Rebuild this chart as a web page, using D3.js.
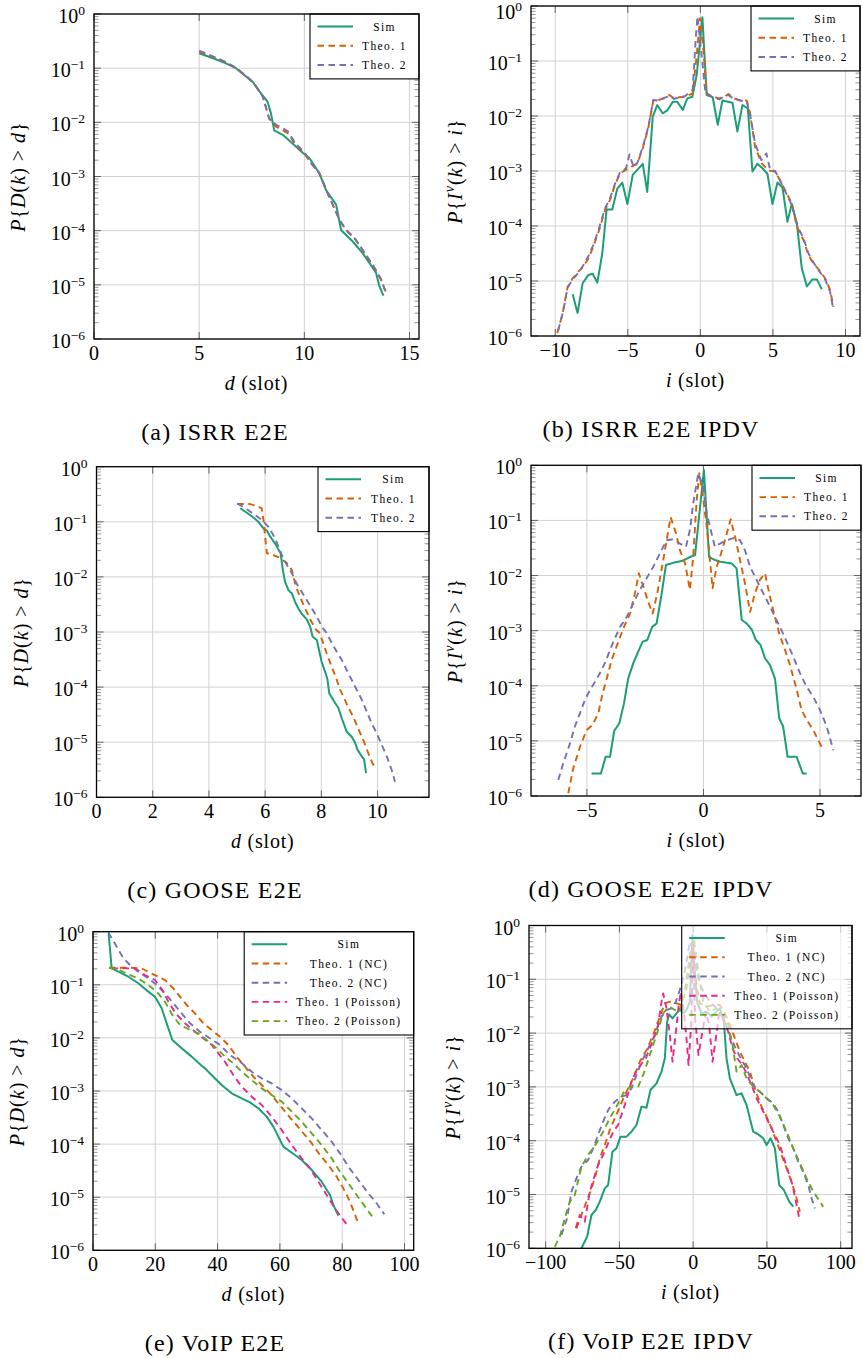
<!DOCTYPE html>
<html>
<head>
<meta charset="utf-8">
<script src="https://cdn.jsdelivr.net/npm/d3@7/dist/d3.min.js"></script>
<style>
  body { margin: 0; background: #fff; }
  #fig text { font-family: "Liberation Serif", "DejaVu Serif", serif; fill: #000; white-space: pre; }
</style>
</head>
<body>
<svg id="fig" width="863" height="1358" font-family="Liberation Serif, DejaVu Serif, serif"></svg>
<script>
// ---------- tick values ----------
const yTicks = [1, 1e-1, 1e-2, 1e-3, 1e-4, 1e-5, 1e-6];
const isrrE2eXTicks = [0, 5, 10, 15];
const isrrIpdvXTicks = [-10, -5, 0, 5, 10];
const gooseE2eXTicks = [0, 2, 4, 6, 8, 10];
const gooseIpdvXTicks = [-5, 0, 5];
const voipE2eXTicks = [0, 20, 40, 60, 80, 100];
const voipIpdvXTicks = [-100, -50, 0, 50, 100];

const legendBasic = ["Sim", "Theo. 1", "Theo. 2"];
const legendVoip = ["Sim", "Theo. 1 (NC)", "Theo. 2 (NC)", "Theo. 1 (Poisson)", "Theo. 2 (Poisson)"];

// ---------- (a) ISRR E2E : [d, P{D(k) > d}] ----------
const isrrE2eSim = [[5.0,1.88e-1],[5.79,1.46e-1],[6.27,1.23e-1],[6.75,1.0e-1],[7.14,7.5e-2],[7.54,5.62e-2],[7.86,3.72e-2],[8.25,2.4e-2],[8.41,1.48e-2],[8.57,7.08e-3],[8.97,5.89e-3],[9.44,4.07e-3],[9.92,2.75e-3],[10.24,2.19e-3],[10.71,1.15e-3],[11.03,5.62e-4],[11.51,3.02e-4],[11.75,1.02e-4],[12.3,6.31e-5],[12.78,3.8e-5],[13.1,2.51e-5],[13.41,1.66e-5],[13.57,9.33e-6],[13.76,6.31e-6]];
const isrrE2eTheo1 = [[5.0,2.02e-1],[5.63,1.63e-1],[6.19,1.32e-1],[6.75,1.0e-1],[7.22,7.18e-2],[7.62,5.13e-2],[8.02,2.99e-2],[8.33,1.19e-2],[8.65,8.32e-3],[9.21,6.31e-3],[9.6,3.8e-3],[10.0,2.69e-3],[10.32,1.74e-3],[10.71,1.15e-3],[11.11,4.9e-4],[11.43,2.57e-4],[11.67,1.58e-4],[11.98,1.02e-4],[12.38,7.24e-5],[12.7,4.79e-5],[13.02,3.09e-5],[13.33,2.04e-5],[13.65,1.23e-5],[13.89,7.08e-6]];
const isrrE2eTheo2 = [[5.0,2.1e-1],[5.63,1.66e-1],[6.19,1.34e-1],[6.75,1.02e-1],[7.22,7.3e-2],[7.62,5.2e-2],[8.02,3.05e-2],[8.33,1.15e-2],[8.65,9.1e-3],[9.21,6.9e-3],[9.6,4.0e-3],[10.0,2.8e-3],[10.32,1.78e-3],[10.71,1.17e-3],[11.11,4.9e-4],[11.43,2.55e-4],[11.67,1.6e-4],[11.98,1.04e-4],[12.38,7.4e-5],[12.7,4.9e-5],[13.02,3.2e-5],[13.33,2.1e-5],[13.65,1.26e-5],[13.89,6.8e-6]];

// ---------- (b) ISRR E2E IPDV : [i, P{I^v(k) > i}] ----------
const isrrIpdvSim = [[-8.8,5.75e-6],[-8.46,2.63e-6],[-8.11,9.12e-6],[-7.72,1.29e-5],[-7.42,1.35e-5],[-7.1,9.33e-6],[-6.76,3.16e-5],[-6.46,2.0e-4],[-6.07,2.0e-4],[-5.72,4.79e-4],[-5.38,6.17e-4],[-5.03,2.51e-4],[-4.66,8.51e-4],[-3.97,1.35e-3],[-3.66,4.17e-4],[-3.28,9.77e-3],[-2.97,1.58e-2],[-2.6,1.12e-2],[-2.28,1.26e-2],[-1.9,1.82e-2],[-1.59,1.82e-2],[-1.21,1.29e-2],[-0.9,2.09e-2],[-0.55,2.24e-2],[-0.25,5.62e-2],[0.14,6.22e-1],[0.44,2.4e-2],[0.85,2.19e-2],[1.2,6.92e-3],[1.52,1.91e-2],[2.21,1.74e-2],[2.55,5.25e-3],[2.9,1.58e-2],[3.27,1.38e-2],[3.59,9.77e-4],[3.93,1.35e-3],[4.28,1.12e-3],[4.62,8.91e-4],[4.97,2.51e-4],[5.31,6.17e-4],[5.66,5.01e-4],[6.0,1.2e-4],[6.3,2.51e-4],[6.65,1.12e-4],[6.99,1.7e-5],[7.34,7.94e-6],[7.72,1.07e-5],[8.03,1.07e-5],[8.37,7.08e-6]];
const isrrIpdvTheo1 = [[-9.86,1.12e-6],[-9.49,2.57e-6],[-9.15,7.76e-6],[-8.8,1.12e-5],[-8.41,1.48e-5],[-8.07,1.82e-5],[-7.72,2.57e-5],[-7.38,4.17e-5],[-6.97,8.51e-5],[-6.57,1.95e-4],[-6.23,2.95e-4],[-5.88,5.62e-4],[-5.54,9.12e-4],[-5.12,1.05e-3],[-4.73,1.2e-3],[-4.34,1.38e-3],[-3.97,2.57e-3],[-3.59,6.03e-3],[-3.24,1.91e-2],[-2.9,1.95e-2],[-2.5,2.09e-2],[-2.14,2.4e-2],[-1.81,2.09e-2],[-1.45,2.19e-2],[-1.06,2.24e-2],[-0.53,2.57e-2],[-0.25,1.29e-1],[-0.02,6.03e-1],[0.21,1.58e-1],[0.44,2.57e-2],[0.85,2.24e-2],[1.29,2.09e-2],[1.66,2.24e-2],[1.93,2.51e-2],[2.32,2.09e-2],[2.74,1.95e-2],[3.2,1.91e-2],[3.43,1.12e-2],[3.77,2.75e-3],[4.23,1.38e-3],[4.69,1.02e-3],[5.15,9.77e-4],[5.54,6.46e-4],[5.96,3.89e-4],[6.3,2.57e-4],[6.65,9.77e-5],[7.1,5.62e-5],[7.45,2.95e-5],[7.79,2.09e-5],[8.19,1.58e-5],[8.6,1.12e-5],[8.94,6.92e-6],[9.17,3.39e-6]];
const isrrIpdvTheo2 = [[-9.8,1.26e-6],[-9.45,2.82e-6],[-9.15,7.59e-6],[-8.8,1.07e-5],[-8.41,1.41e-5],[-8.07,1.91e-5],[-7.72,2.82e-5],[-7.38,4.47e-5],[-6.97,9.33e-5],[-6.57,2.09e-4],[-6.23,3.16e-4],[-5.88,5.89e-4],[-5.54,9.33e-4],[-5.12,1.12e-3],[-4.88,2.0e-3],[-4.6,1.17e-3],[-4.34,1.41e-3],[-3.97,2.75e-3],[-3.59,6.31e-3],[-3.24,1.95e-2],[-2.9,1.91e-2],[-2.5,2.14e-2],[-2.14,2.29e-2],[-1.81,2.04e-2],[-1.45,2.19e-2],[-1.06,2.29e-2],[-0.53,3.02e-2],[-0.32,2.51e-1],[-0.2,6.46e-1],[0.05,1.58e-1],[0.35,2.63e-2],[0.85,2.19e-2],[1.29,2.0e-2],[1.66,2.29e-2],[1.93,2.4e-2],[2.32,2.04e-2],[2.74,1.91e-2],[3.2,1.82e-2],[3.43,1.05e-2],[3.77,3.16e-3],[4.2,1.58e-3],[4.55,2.09e-3],[4.8,1.07e-3],[5.15,1.0e-3],[5.54,6.31e-4],[5.96,3.72e-4],[6.3,2.4e-4],[6.65,1.05e-4],[7.1,6.03e-5],[7.45,3.16e-5],[7.79,2.19e-5],[8.19,1.51e-5],[8.6,1.07e-5],[8.94,6.31e-6],[9.15,3.16e-6]];

// ---------- (c) GOOSE E2E ----------
const gooseE2eSim = [[5.11,1.76e-1],[5.35,1.46e-1],[5.58,1.2e-1],[5.76,1.0e-1],[5.94,7.59e-2],[6.06,6.92e-2],[6.17,5.5e-2],[6.35,4.07e-2],[6.47,3.16e-2],[6.55,2.69e-2],[6.63,1.33e-2],[6.71,8.13e-3],[6.83,5.75e-3],[6.95,5.01e-3],[7.06,3.55e-3],[7.18,2.69e-3],[7.3,2.14e-3],[7.48,1.7e-3],[7.6,1.26e-3],[7.69,8.22e-4],[7.84,7.16e-4],[7.93,4.37e-4],[8.01,2.88e-4],[8.13,1.91e-4],[8.21,1.45e-4],[8.28,7.76e-5],[8.49,5.13e-5],[8.6,4.27e-5],[8.73,2.69e-5],[8.9,1.55e-5],[9.08,1.26e-5],[9.2,9.77e-6],[9.28,7.41e-6],[9.44,5.5e-6],[9.52,4.9e-6],[9.59,2.75e-6]];
const gooseE2eTheo1 = [[5.01,2.1e-1],[5.46,2.1e-1],[5.7,1.94e-1],[5.88,1.76e-1],[5.94,1.08e-1],[6.0,5.37e-2],[6.06,2.69e-2],[6.27,2.51e-2],[6.47,2.29e-2],[6.77,1.78e-2],[6.95,1.33e-2],[7.1,6.61e-3],[7.24,4.37e-3],[7.42,2.69e-3],[7.6,1.7e-3],[7.81,1.1e-3],[7.93,9.77e-4],[8.05,6.61e-4],[8.19,4.07e-4],[8.37,2.34e-4],[8.55,1.35e-4],[8.67,8.91e-5],[8.81,6.31e-5],[8.96,4.27e-5],[9.14,2.88e-5],[9.28,1.91e-5],[9.44,1.26e-5],[9.56,8.91e-6],[9.67,6.31e-6],[9.79,4.47e-6],[9.91,3.39e-6]];
const gooseE2eTheo2 = [[5.01,2.16e-1],[5.35,1.69e-1],[5.64,1.33e-1],[5.88,1.08e-1],[6.11,8.13e-2],[6.29,5.75e-2],[6.43,4.07e-2],[6.59,2.51e-2],[6.77,1.66e-2],[6.95,1.17e-2],[7.12,7.59e-3],[7.3,5.37e-3],[7.48,3.8e-3],[7.66,2.69e-3],[7.84,1.91e-3],[8.01,1.26e-3],[8.19,9.55e-4],[8.37,6.31e-4],[8.55,4.37e-4],[8.73,3.09e-4],[8.9,2.04e-4],[9.08,1.35e-4],[9.26,8.91e-5],[9.44,5.89e-5],[9.62,3.55e-5],[9.79,2.19e-5],[9.97,1.45e-5],[10.15,8.91e-6],[10.33,5.5e-6],[10.5,3.16e-6],[10.62,1.91e-6]];

// ---------- (d) GOOSE E2E IPDV ----------
const gooseIpdvSim = [[-4.8,2.57e-6],[-4.4,2.57e-6],[-4.2,5.13e-6],[-4.01,5.13e-6],[-3.83,1.51e-5],[-3.61,2.09e-5],[-3.41,4.79e-5],[-3.23,1.35e-4],[-3.01,2.57e-4],[-2.8,4.17e-4],[-2.61,6.31e-4],[-2.41,6.76e-4],[-2.2,1.17e-3],[-2.01,1.35e-3],[-1.79,4.79e-3],[-1.61,1.55e-2],[-1.3,1.7e-2],[-0.89,1.86e-2],[-0.55,2.19e-2],[-0.36,2.34e-2],[0.02,8.22e-1],[0.24,2.19e-2],[0.45,1.95e-2],[0.71,1.78e-2],[1.02,1.7e-2],[1.21,1.66e-2],[1.42,1.35e-2],[1.64,1.58e-3],[1.85,1.35e-3],[2.07,1.05e-3],[2.25,6.76e-4],[2.45,5.5e-4],[2.64,3.16e-4],[2.85,2.4e-4],[3.07,1.35e-4],[3.25,2.57e-5],[3.42,1.82e-5],[3.61,5.13e-6],[4.0,5.13e-6],[4.26,2.57e-6],[4.43,2.57e-6]];
const gooseIpdvTheo1 = [[-5.8,1.12e-6],[-5.59,3.16e-6],[-5.3,7.76e-6],[-5.01,1.58e-5],[-4.76,1.95e-5],[-4.51,3.16e-5],[-4.33,7.24e-5],[-4.13,1.45e-4],[-3.94,2.95e-4],[-3.73,5.13e-4],[-3.44,1.1e-3],[-3.15,2.04e-3],[-2.94,4.79e-3],[-2.77,1.1e-2],[-2.58,6.31e-3],[-2.37,3.31e-3],[-2.18,2.04e-3],[-1.98,4.79e-3],[-1.75,1.66e-2],[-1.58,4.37e-2],[-1.41,1.15e-1],[-1.18,5.89e-2],[-1.01,2.88e-2],[-0.79,1.66e-2],[-0.58,5.5e-3],[-0.44,2.19e-2],[-0.29,2.34e-1],[-0.18,7.16e-1],[-0.04,3.09e-1],[0.14,7.76e-2],[0.28,1.91e-2],[0.39,5.89e-3],[0.57,1.45e-2],[0.71,2.19e-2],[0.92,4.37e-2],[1.17,1.05e-1],[1.39,4.37e-2],[1.57,1.91e-2],[1.78,7.24e-3],[2.0,2.19e-3],[2.21,4.79e-3],[2.42,8.32e-3],[2.64,1.1e-2],[2.82,4.79e-3],[3.03,2.04e-3],[3.25,8.91e-4],[3.5,4.47e-4],[3.71,2.4e-4],[3.97,9.55e-5],[4.21,3.63e-5],[4.43,2.4e-5],[4.71,1.58e-5],[4.93,1.02e-5],[5.14,6.76e-6]];
const gooseIpdvTheo2 = [[-6.23,1.95e-6],[-6.02,3.89e-6],[-5.73,8.91e-6],[-5.52,1.82e-5],[-5.3,3.16e-5],[-5.09,5.5e-5],[-4.87,8.32e-5],[-4.66,1.17e-4],[-4.44,1.7e-4],[-4.23,2.57e-4],[-4.01,4.47e-4],[-3.8,7.24e-4],[-3.58,1.17e-3],[-3.37,1.55e-3],[-3.15,2.34e-3],[-2.94,3.63e-3],[-2.73,5.5e-3],[-2.44,8.91e-3],[-2.15,1.45e-2],[-1.87,2.51e-2],[-1.58,4.37e-2],[-1.3,4.57e-2],[-1.01,3.8e-2],[-0.75,3.31e-2],[-0.58,6.76e-2],[-0.44,2.04e-1],[-0.22,7.16e-1],[-0.01,4.07e-1],[0.14,1.35e-1],[0.31,6.76e-2],[0.49,3.31e-2],[0.71,3.8e-2],[1.0,4.37e-2],[1.28,4.79e-2],[1.57,4.37e-2],[1.78,2.88e-2],[2.0,1.45e-2],[2.21,9.55e-3],[2.42,6.31e-3],[2.71,3.63e-3],[3.0,2.04e-3],[3.28,1.17e-3],[3.57,6.31e-4],[3.85,3.39e-4],[4.14,1.7e-4],[4.43,9.55e-5],[4.71,6.31e-5],[5.0,3.63e-5],[5.29,1.82e-5],[5.57,6.76e-6]];

// ---------- (e) VoIP E2E ----------
const voipE2eSim = [[5.0,9.33e-1],[6.0,2.04e-1],[8.13,1.77e-1],[11.34,1.42e-1],[14.55,1.07e-1],[17.76,7.43e-2],[19.9,5.97e-2],[22.04,3.61e-2],[23.65,1.88e-2],[25.47,9.12e-3],[28.46,6.37e-3],[31.67,4.44e-3],[34.88,3.0e-3],[35.95,2.67e-3],[38.63,1.86e-3],[41.3,1.3e-3],[44.52,9.04e-4],[47.72,7.28e-4],[50.4,6.12e-4],[53.08,4.72e-4],[55.75,3.29e-4],[57.89,2.13e-4],[61.1,8.95e-5],[64.85,6.24e-5],[66.99,5.02e-5],[70.2,3.25e-5],[73.41,1.96e-5],[76.08,1.1e-5],[77.15,7.13e-6],[78.76,4.49e-6]];
const voipE2eTheo1Nc = [[5.13,2.1e-1],[11.34,2.1e-1],[15.62,2.04e-1],[19.37,1.57e-1],[23.11,1.23e-1],[25.79,8.57e-2],[27.93,5.97e-2],[30.07,4.17e-2],[32.74,2.9e-2],[35.42,1.88e-2],[38.09,1.41e-2],[40.77,1.05e-2],[43.44,7.35e-3],[46.12,4.44e-3],[48.79,2.87e-3],[51.47,1.86e-3],[54.15,1.3e-3],[56.82,9.04e-4],[59.5,5.86e-4],[62.17,3.79e-4],[64.85,2.46e-4],[67.52,1.6e-4],[70.2,1.04e-4],[72.87,6.24e-5],[75.55,4.05e-5],[78.22,2.44e-5],[80.36,1.47e-5],[82.5,8.24e-6],[84.96,3.46e-6]];
const voipE2eTheo2Nc = [[4.92,9.73e-1],[7.6,5.22e-1],[9.74,3.16e-1],[11.88,2.36e-1],[14.55,1.77e-1],[17.76,1.32e-1],[20.44,9.9e-2],[23.11,6.9e-2],[25.79,4.48e-2],[28.46,2.9e-2],[31.14,1.88e-2],[34.35,1.31e-2],[37.56,9.82e-3],[40.77,7.35e-3],[43.98,4.76e-3],[47.19,3.56e-3],[50.94,2.31e-3],[54.15,1.73e-3],[57.36,1.39e-3],[60.57,1.04e-3],[63.78,7.28e-4],[66.99,4.72e-4],[70.2,3.05e-4],[73.41,1.85e-4],[76.62,1.11e-4],[79.29,6.7e-5],[81.97,3.76e-5],[85.18,2.11e-5],[88.39,1.18e-5],[91.06,7.67e-6],[93.52,4.76e-6]];
const voipE2eTheo1Poisson = [[5.99,2.04e-1],[13.48,2.04e-1],[16.69,1.53e-1],[19.9,1.23e-1],[22.26,7.98e-2],[24.18,4.81e-2],[26.54,2.9e-2],[29.53,1.88e-2],[32.74,1.31e-2],[35.42,9.82e-3],[38.09,7.35e-3],[40.23,5.12e-3],[42.37,3.56e-3],[45.05,2.0e-3],[47.72,1.21e-3],[50.94,7.82e-4],[54.15,5.45e-4],[57.36,3.29e-4],[60.57,1.85e-4],[63.78,9.62e-5],[66.99,5.4e-5],[69.66,3.5e-5],[72.34,1.96e-5],[75.01,1.1e-5],[77.69,6.18e-6],[79.83,4.12e-6],[81.43,3.08e-6]];
const voipE2eTheo2Poisson = [[5.13,2.1e-1],[8.13,1.95e-1],[11.34,1.57e-1],[14.55,1.32e-1],[17.76,9.9e-2],[20.44,7.43e-2],[23.11,4.81e-2],[25.47,2.7e-2],[27.93,1.75e-2],[30.6,1.47e-2],[33.81,1.22e-2],[36.49,9.12e-3],[39.7,6.37e-3],[42.37,4.44e-3],[45.05,3.32e-3],[47.72,2.31e-3],[50.94,1.61e-3],[54.15,1.12e-3],[57.36,8.41e-4],[60.57,6.3e-4],[63.78,4.08e-4],[66.99,2.65e-4],[70.2,1.6e-4],[73.41,9.62e-5],[76.62,5.4e-5],[79.29,3.03e-5],[81.97,1.82e-5],[84.64,1.1e-5],[87.32,6.64e-6],[89.67,4.31e-6]];

// ---------- (f) VoIP E2E IPDV ----------
const voipIpdvSim = [[-75.74,1.0e-6],[-71.9,1.64e-6],[-68.96,4.16e-6],[-66.02,5.15e-6],[-63.3,7.36e-6],[-59.91,1.3e-5],[-57.65,1.5e-5],[-54.71,6.25e-5],[-52.0,7.21e-5],[-49.28,1.19e-4],[-45.21,1.19e-4],[-41.82,1.47e-4],[-38.43,1.96e-4],[-35.03,4.3e-4],[-31.64,4.11e-4],[-28.93,8.75e-4],[-24.86,1.16e-3],[-21.47,1.92e-3],[-19.2,3.4e-3],[-17.62,1.63e-2],[-16.26,2.23e-2],[-14.0,1.88e-2],[-11.29,2.33e-2],[-8.58,2.88e-2],[-6.77,2.33e-2],[-4.51,2.69e-2],[-2.24,3.84e-2],[-0.44,6.65e-1],[1.14,1.39e-1],[2.73,3.84e-2],[5.67,2.33e-2],[9.06,2.51e-2],[12.45,2.02e-2],[15.85,2.51e-2],[18.11,2.88e-2],[20.82,1.63e-2],[22.63,3.4e-3],[24.89,1.44e-3],[29.42,7.06e-4],[32.81,7.59e-4],[36.2,4.61e-4],[40.72,1.47e-4],[44.11,1.31e-4],[47.51,1.11e-4],[49.77,8.32e-5],[52.48,1.11e-4],[55.42,7.21e-5],[58.36,1.5e-5],[61.53,1.21e-5],[65.15,7.36e-6],[67.86,5.94e-6]];
const voipIpdvTheo1Nc = [[-79.13,2.35e-6],[-75.74,4.16e-6],[-72.35,7.36e-6],[-69.63,1.13e-5],[-66.69,2.0e-5],[-63.3,4.7e-5],[-59.91,8.32e-5],[-56.52,1.58e-4],[-53.13,2.61e-4],[-49.73,4.3e-4],[-46.34,7.06e-4],[-42.95,1.08e-3],[-39.56,1.66e-3],[-36.17,2.94e-3],[-31.64,4.85e-3],[-27.12,9.23e-3],[-22.6,2.02e-2],[-19.2,3.57e-2],[-15.81,3.84e-2],[-11.29,3.57e-2],[-7.9,3.33e-2],[-4.51,6.79e-2],[-1.11,3.27e-1],[1.14,1.2e-1],[4.54,3.57e-2],[9.06,3.1e-2],[13.59,3.33e-2],[18.11,3.33e-2],[21.5,2.33e-2],[24.89,1.42e-2],[28.28,8.0e-3],[31.68,4.52e-3],[35.07,2.94e-3],[38.46,1.92e-3],[42.53,8.15e-4],[46.38,4.3e-4],[49.77,2.8e-4],[53.16,1.7e-4],[56.55,9.59e-5],[59.94,5.42e-5],[63.34,3.06e-5],[66.73,1.73e-5],[70.12,8.49e-6],[72.38,4.8e-6]];
const voipIpdvTheo2Nc = [[-89.31,1.77e-6],[-85.46,3.61e-6],[-82.52,1.13e-5],[-79.13,2.0e-5],[-75.74,3.29e-5],[-71.22,4.38e-5],[-67.82,7.21e-5],[-64.43,1.28e-4],[-61.04,2.26e-4],[-57.65,3.72e-4],[-53.13,5.32e-4],[-48.6,6.59e-4],[-45.21,7.06e-4],[-41.82,9.4e-4],[-38.43,1.66e-3],[-34.36,3.16e-3],[-30.51,5.21e-3],[-25.99,9.23e-3],[-21.47,2.02e-2],[-18.07,2.69e-2],[-14.68,2.88e-2],[-11.74,3.84e-2],[-9.03,6.32e-2],[-5.64,1.39e-1],[-2.24,5.01e-1],[0.47,3.27e-1],[3.41,1.04e-1],[6.8,5.89e-2],[11.32,3.84e-2],[15.85,2.88e-2],[20.37,1.88e-2],[24.89,9.23e-3],[28.28,5.6e-3],[31.68,3.65e-3],[36.2,2.21e-3],[40.72,1.08e-3],[45.25,8.15e-4],[49.77,6.14e-4],[54.29,4.95e-4],[57.68,3.47e-4],[61.07,1.96e-4],[64.47,1.11e-4],[67.86,7.21e-5],[71.25,4.07e-5],[74.64,2.65e-5],[78.04,1.5e-5],[80.3,8.49e-6],[82.56,5.53e-6]];
const voipIpdvTheo1Poisson = [[-79.58,2.35e-6],[-76.87,4.16e-6],[-73.48,3.13e-6],[-70.09,1.13e-5],[-67.37,2.0e-5],[-64.43,3.53e-5],[-61.04,5.42e-5],[-57.65,8.93e-5],[-54.26,1.47e-4],[-50.86,1.96e-4],[-48.6,3.01e-4],[-46.34,4.61e-4],[-44.08,7.59e-4],[-41.82,1.25e-3],[-38.88,1.92e-3],[-35.71,2.55e-3],[-32.09,3.4e-3],[-29.38,5.21e-3],[-26.67,8.0e-3],[-23.73,1.42e-2],[-21.47,3.84e-2],[-20.34,5.48e-2],[-18.07,2.88e-2],[-15.81,9.23e-3],[-14.0,2.94e-3],[-11.97,9.23e-3],[-9.71,3.33e-2],[-8.35,5.89e-2],[-6.31,2.5e-2],[-4.51,8.0e-3],[-3.15,2.55e-3],[-1.34,1.42e-2],[0.02,4.37e-1],[1.37,1.88e-2],[3.64,3.92e-3],[5.9,9.23e-3],[8.61,2.5e-2],[10.87,1.42e-2],[13.13,2.94e-3],[15.4,8.0e-3],[17.66,2.33e-2],[20.37,1.88e-2],[23.76,1.06e-2],[26.7,5.21e-3],[29.87,3.4e-3],[33.49,2.55e-3],[36.65,1.66e-3],[39.59,1.08e-3],[42.98,6.14e-4],[46.38,4.0e-4],[49.32,2.8e-4],[52.03,1.96e-4],[55.42,1.28e-4],[58.81,8.32e-5],[61.53,4.7e-5],[64.47,2.65e-5],[67.41,1.5e-5],[69.67,7.36e-6],[71.93,3.61e-6]];
const voipIpdvTheo2Poisson = [[-93.83,1.07e-6],[-90.44,1.64e-6],[-87.05,3.61e-6],[-83.65,7.36e-6],[-80.26,9.79e-6],[-75.74,3.29e-5],[-71.22,5.42e-5],[-65.56,8.93e-5],[-61.04,1.47e-4],[-56.52,2.61e-4],[-52.0,4.3e-4],[-46.34,8.75e-4],[-41.82,1.01e-3],[-37.3,1.01e-3],[-33.45,1.79e-3],[-29.38,3.92e-3],[-24.86,9.23e-3],[-20.34,2.33e-2],[-16.26,3.1e-2],[-12.42,2.69e-2],[-9.03,2.5e-2],[-5.64,5.89e-2],[-2.24,2.83e-1],[0.47,5.78e-1],[3.41,1.39e-1],[6.8,3.84e-2],[11.32,2.5e-2],[15.85,2.88e-2],[20.37,2.17e-2],[23.76,1.42e-2],[26.7,6.01e-3],[29.42,1.92e-3],[32.81,2.55e-3],[36.2,1.44e-3],[40.72,1.01e-3],[45.25,8.15e-4],[49.77,6.14e-4],[54.29,4.61e-4],[58.81,2.8e-4],[63.34,1.47e-4],[67.86,7.21e-5],[72.38,3.79e-5],[76.91,2.0e-5],[81.43,1.13e-5],[85.95,7.36e-6],[88.21,5.94e-6]];

// ---------- styling ----------
const C_SIM = "#1b9e77", C_T1 = "#d95f02", C_T2 = "#7570b3", C_T1P = "#e7298a", C_T2P = "#66a61e";
const colors3 = [C_SIM, C_T1, C_T2];
const colors5 = [C_SIM, C_T1, C_T2, C_T1P, C_T2P];
const FONT = "Liberation Serif, DejaVu Serif, serif";

// panel layout: frame in pixels [left, right, top, bottom]
const panels = [
  { frame: [94, 419, 14, 339], xDomain: [0, 15.45], xTicks: isrrE2eXTicks, series: [isrrE2eSim, isrrE2eTheo1, isrrE2eTheo2],
    names: legendBasic, colors: colors3, xVar: "d", ipdv: false, caption: "(a) ISRR E2E", capX: 215, legendW: 109, legendOpacity: 1 },
  { frame: [531, 860, 6, 336], xDomain: [-11.67, 11.0], xTicks: isrrIpdvXTicks, series: [isrrIpdvSim, isrrIpdvTheo1, isrrIpdvTheo2],
    names: legendBasic, colors: colors3, xVar: "i", ipdv: true, caption: "(b) ISRR E2E IPDV", capX: 651, legendW: 109, legendOpacity: 1 },
  { frame: [96.5, 429, 466.7, 797.3], xDomain: [0, 11.83], xTicks: gooseE2eXTicks, series: [gooseE2eSim, gooseE2eTheo1, gooseE2eTheo2],
    names: legendBasic, colors: colors3, xVar: "d", ipdv: false, caption: "(c) GOOSE E2E", capX: 215, legendW: 111, legendOpacity: 1 },
  { frame: [531, 861, 465.3, 796], xDomain: [-7.4, 6.76], xTicks: gooseIpdvXTicks, series: [gooseIpdvSim, gooseIpdvTheo1, gooseIpdvTheo2],
    names: legendBasic, colors: colors3, xVar: "i", ipdv: true, caption: "(d) GOOSE E2E IPDV", capX: 651, legendW: 109, legendOpacity: 1 },
  { frame: [93, 413.7, 931.7, 1250.3], xDomain: [0, 102.95], xTicks: voipE2eXTicks,
    series: [voipE2eSim, voipE2eTheo1Nc, voipE2eTheo2Nc, voipE2eTheo1Poisson, voipE2eTheo2Poisson],
    names: legendVoip, colors: colors5, xVar: "d", ipdv: false, caption: "(e) VoIP E2E", capX: 215, legendW: 169.5, legendOpacity: 1 },
  { frame: [529, 852, 925.5, 1248.3], xDomain: [-111.3, 107.7], xTicks: voipIpdvXTicks,
    series: [voipIpdvSim, voipIpdvTheo1Nc, voipIpdvTheo2Nc, voipIpdvTheo1Poisson, voipIpdvTheo2Poisson],
    names: legendVoip, colors: colors5, xVar: "i", ipdv: true, caption: "(f) VoIP E2E IPDV", capX: 651, legendW: 170.3, legendOpacity: 0.65 }
];

const svg = d3.select("#fig");
svg.append("rect").attr("width", 863).attr("height", 1358).attr("fill", "#fff");
const defs = svg.append("defs");

function txt(parent) {
  return parent.append("text").attr("font-family", FONT).attr("fill", "#000");
}

// write a sequence of [text, italic, superscript] pieces into a <text>
function richText(sel, parts, size) {
  let raised = false;
  parts.forEach(([t, it, sup]) => {
    const ts = sel.append("tspan").text(t);
    if (it) ts.attr("font-style", "italic");
    if (sup) {
      ts.attr("font-size", size * 0.7).attr("dy", -size * 0.38);
      raised = true;
    } else if (raised) {
      ts.attr("dy", size * 0.38);
      raised = false;
    }
  });
}

const minorTicks = [];
for (let e = -6; e < 0; e++) for (let m = 2; m <= 9; m++) minorTicks.push(m * Math.pow(10, e));

panels.forEach((p, idx) => {
  const [L, R, T, B] = p.frame;
  const x = d3.scaleLinear().domain(p.xDomain).range([L, R]);
  const y = d3.scaleLog().domain([1e-6, 1]).range([B, T]);
  const g = svg.append("g");

  // grid
  g.selectAll(null).data(p.xTicks).join("line")
    .attr("x1", d => x(d)).attr("x2", d => x(d)).attr("y1", T).attr("y2", B)
    .attr("stroke", "#d2d2d2").attr("stroke-width", 1);
  g.selectAll(null).data(yTicks).join("line")
    .attr("x1", L).attr("x2", R).attr("y1", d => y(d)).attr("y2", d => y(d))
    .attr("stroke", "#d2d2d2").attr("stroke-width", 1);

  // minor y ticks (both sides)
  g.selectAll(null).data(minorTicks).join("path")
    .attr("d", d => `M${L},${y(d)}h4.5M${R},${y(d)}h-4.5`)
    .attr("stroke", "#7a7a7a").attr("stroke-width", 0.8);
  // major ticks
  g.selectAll(null).data(yTicks).join("path")
    .attr("d", d => `M${L},${y(d)}h7M${R},${y(d)}h-7`)
    .attr("stroke", "#555").attr("stroke-width", 0.9);
  g.selectAll(null).data(p.xTicks).join("path")
    .attr("d", d => `M${x(d)},${B}v-7M${x(d)},${T}v7`)
    .attr("stroke", "#555").attr("stroke-width", 0.9);

  // curves
  const clipId = "clip" + idx;
  defs.append("clipPath").attr("id", clipId).append("rect")
    .attr("x", L).attr("y", T).attr("width", R - L).attr("height", B - T);
  const line = d3.line().x(d => x(d[0])).y(d => y(d[1]));
  const cg = g.append("g").attr("clip-path", `url(#${clipId})`);
  p.series.forEach((s, k) => {
    cg.append("path").datum(s).attr("d", line)
      .attr("fill", "none").attr("stroke", p.colors[k])
      .attr("stroke-width", k === 0 ? 2 : 1.9)
      .attr("stroke-linejoin", "round")
      .attr("stroke-dasharray", k === 0 ? null : "6.5,4.5");
  });

  // legend
  const n = p.names.length;
  const lh = 25 + (n - 1) * 19.2 + 1.5;
  const lx = R - p.legendW;
  const lg = g.append("g");
  lg.append("rect").attr("x", lx).attr("y", T).attr("width", p.legendW).attr("height", lh)
    .attr("fill", "#fff").attr("fill-opacity", p.legendOpacity)
    .attr("stroke", "#000").attr("stroke-width", 1.1);
  p.names.forEach((name, k) => {
    const ey = T + 12.6 + k * 19.2;
    lg.append("line").attr("x1", lx + 7.5).attr("x2", lx + 43).attr("y1", ey).attr("y2", ey)
      .attr("stroke", p.colors[k]).attr("stroke-width", k === 0 ? 2 : 1.9)
      .attr("stroke-dasharray", k === 0 ? null : "6.5,4.5");
    txt(lg).attr("x", lx + (p.legendW + 43) / 2 - 1.5).attr("y", ey + 4)
      .attr("text-anchor", "middle").attr("font-size", 11.5).attr("letter-spacing", 1.4)
      .text(name);
  });

  // frame
  g.append("rect").attr("x", L).attr("y", T).attr("width", R - L).attr("height", B - T)
    .attr("fill", "none").attr("stroke", "#000").attr("stroke-width", 1.3);

  // tick labels
  p.xTicks.forEach(d => {
    txt(g).attr("x", x(d)).attr("y", B + 21).attr("text-anchor", "middle").attr("font-size", 20)
      .text(d < 0 ? "\u2212" + (-d) : String(d));
  });
  yTicks.forEach(v => {
    const e = Math.round(Math.log10(v));
    // keep the topmost label inside the page
    const base = Math.max(y(v) + 9, 19);
    const t = txt(g).attr("x", L - 9).attr("y", base)
      .attr("text-anchor", "end").attr("font-size", 20);
    t.append("tspan").text("10");
    t.append("tspan").attr("font-size", 13.5).attr("dy", -8)
      .text(e === 0 ? "0" : "\u2212" + (-e));
  });

  // axis labels
  const xl = txt(g).attr("x", (L + R) / 2).attr("y", B + 51)
    .attr("text-anchor", "middle").attr("font-size", 20).attr("letter-spacing", 0.8);
  richText(xl, [[p.xVar, true], [" (slot)", false]], 20);

  const yl = txt(g)
    .attr("transform", `translate(${L - 69},${(T + B) / 2}) rotate(-90)`)
    .attr("text-anchor", "middle").attr("font-size", 20).attr("letter-spacing", 1);
  const yParts = p.ipdv
    ? [["P", true], ["{", false], ["I", true], ["v", true, true], ["(", false], ["k", true], [")", false], [" > ", false], ["i", true], ["}", false]]
    : [["P", true], ["{", false], ["D", true], ["(", false], ["k", true], [")", false], [" > ", false], ["d", true], ["}", false]];
  richText(yl, yParts, 20);

  // caption
  txt(g).attr("x", p.capX).attr("y", B + 101)
    .attr("text-anchor", "middle").attr("font-size", 24).attr("letter-spacing", 1.2)
    .text(p.caption);
});
</script>
</body>
</html>
